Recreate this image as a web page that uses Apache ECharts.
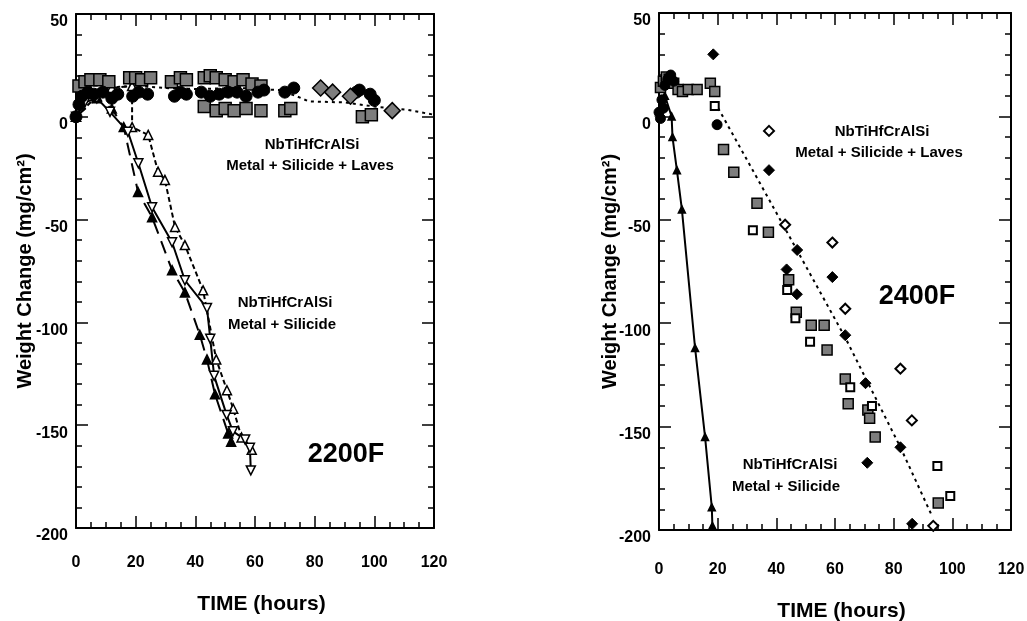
<!DOCTYPE html>
<html>
<head>
<meta charset="utf-8">
<script src="https://cdn.jsdelivr.net/npm/echarts@6/dist/echarts.min.js"></script>
<style>
  html, body { margin: 0; background: #fff; }
  #chart { width: 1027px; height: 621px; }
</style>
</head>
<body>
<div id="chart"></div>
<script>
// ---- 2200F panel (left) ----
// Metal + Silicide, open down-triangles, solid line
const l_msA_t = [0, 3, 7, 11.4, 17.4, 20.9, 25.5, 32.2, 36.5, 43.9, 45, 46.3, 50.5, 52.6, 56.7, 58.3, 58.6]
const l_msA_v = [0, 7, 9, 2.4, -7.3, -22.6, -44, -61, -79.5, -93, -108, -126, -145, -153, -157, -161, -172]
// Metal + Silicide, open up-triangles, short dashes
const l_msB_t = [0, 7, 12, 18.8, 18.8, 24.2, 27.5, 29.8, 33.2, 36.5, 42.6, 47, 50.6, 52.7, 55.5, 58.9]
const l_msB_v = [0, 10, 14, 15, -5, -8.8, -26.7, -30.7, -53.6, -62.4, -84.4, -118, -133, -142, -156, -162]
// Metal + Silicide, filled triangles, long dashes
const l_msC_t = [0, 7, 12, 16, 20.8, 25.5, 32.2, 36.5, 41.5, 43.9, 46.6, 51, 52]
const l_msC_v = [0, 9, 4, -5, -36.6, -48.8, -74.6, -85.4, -106, -118, -135, -154, -158]
// Metal + Silicide + Laves, trend line
const l_lavLine_t = [0, 3, 8, 20, 30, 40, 55, 68, 74, 78, 90, 100, 111, 120]
const l_lavLine_v = [0, 9, 14, 15, 14, 13.5, 14, 13, 10, 7.5, 7, 5, 3.4, 1]
// Laves samples: hatched squares
const l_hatch_t = [1, 3, 5, 8, 11, 18, 20, 22, 25, 32, 35, 37, 43, 45, 47, 50, 53, 56, 59, 62,
  43, 47, 50, 53, 57, 62, 70, 72, 96, 99]
const l_hatch_v = [15, 17, 18, 18, 17, 19, 19, 18, 19, 17, 19, 18, 19, 20, 19, 18, 17, 18, 16, 15,
  5, 3, 4, 3, 4, 3, 3, 4, 0, 1]
// Laves samples: filled circles
const l_circ_t = [0, 1, 2, 4, 6, 9, 12, 14, 19, 21, 24, 33, 35, 37, 42, 45, 48, 51, 54, 57, 61, 63, 70, 73, 94, 95, 98.6, 100]
const l_circ_v = [0, 6, 10, 12, 11, 12, 9, 11, 10, 12, 11, 10, 12, 11, 12, 10, 11, 12, 12, 10, 12, 13, 12, 14, 12, 13, 11, 8]
// Laves samples: hatched diamonds
const l_diam_t = [82, 86, 92, 106]
const l_diam_v = [14, 12, 10, 3]

// ---- 2400F panel (right) ----
const r_ms_t = [0, 2, 4.3, 4.6, 6.1, 7.8, 12.3, 15.7, 18, 18.2]
const r_ms_v = [2, 10, 0, -10, -26, -45, -112, -155, -189, -198]
const r_lavLine_t = [19, 39, 63.5, 82.3, 93]
const r_lavLine_v = [7, -44, -107, -160, -193]
const r_hatch_t = [0.5, 1.5, 2.5, 3.5, 5, 6.5, 8, 10, 13, 17.5, 19, 22, 25.5, 33.4, 37.3, 44.2, 46.8, 51.9, 56.3, 57.3, 63.5, 64.5, 71.2, 71.8, 73.7, 95.2]
const r_hatch_v = [14, 17, 19, 18, 16, 13, 12, 13, 13, 16, 12, -16, -27, -42, -56, -79, -94.7, -101, -101, -113, -127, -139, -142, -146, -155, -187]
const r_sq_t = [19, 32, 43.7, 46.5, 51.5, 65.2, 72.6, 94.9, 99.3]
const r_sq_v = [5, -55, -84, -97.6, -109, -131, -140, -169, -183.5]
const r_fd_t = [18.5, 37.5, 43.5, 47, 47.1, 59.1, 63.5, 70.4, 71, 82.3, 86.3]
const r_fd_v = [30, -26, -74, -86, -64.6, -77.7, -105.8, -129, -167.5, -160, -197]
const r_od_t = [37.5, 43, 59.1, 63.5, 82.3, 86.2, 93.5]
const r_od_v = [-7, -52.4, -61, -93, -122, -147, -198]
const r_circ_t = [0, 0.5, 1, 1.5, 2, 3, 4, 5, 19.8]
const r_circ_v = [2, -1, 8, 4, 15, 18, 20, 17, -4]

const xTicks = [0, 120, 20]      // min, max, step
const yTicks = [-200, 50, 50]

const FONT = '"Liberation Sans", Arial, sans-serif'
const zip = (t, v) => t.map((x, i) => [x, v[i]])

function xAxes(grid, labelMargin) {
  const base = {
    gridIndex: grid, type: 'value', min: xTicks[0], max: xTicks[1], interval: xTicks[2],
    axisLine: { onZero: false, lineStyle: { color: '#000', width: 2 } },
    axisTick: { inside: true, length: 12, lineStyle: { color: '#000', width: 1.5 } },
    minorTick: { show: true, splitNumber: 4, length: 6, lineStyle: { color: '#000', width: 1.5 } },
    splitLine: { show: false }
  }
  return [
    Object.assign({}, base, {
      position: 'bottom',
      axisLabel: { color: '#000', fontSize: 16, fontWeight: 'bold', fontFamily: FONT, margin: labelMargin },
      name: 'TIME (hours)', nameLocation: 'middle', nameGap: 66 + labelMargin - 27, nameMoveOverlap: false,
      nameTextStyle: { color: '#000', fontSize: 21, fontWeight: 'bold', fontFamily: FONT, padding: [0, 0, 0, 13] }
    }),
    Object.assign({}, base, { position: 'top', axisLabel: { show: false } })
  ]
}

function yAxes(grid, nameGap) {
  const base = {
    gridIndex: grid, type: 'value', min: yTicks[0], max: yTicks[1], interval: yTicks[2],
    axisLine: { onZero: false, lineStyle: { color: '#000', width: 2 } },
    axisTick: { inside: true, length: 12, lineStyle: { color: '#000', width: 1.5 } },
    minorTick: { show: true, splitNumber: 5, length: 6, lineStyle: { color: '#000', width: 1.5 } },
    splitLine: { show: false }
  }
  return [
    Object.assign({}, base, {
      position: 'left',
      axisLabel: { color: '#000', fontSize: 16, fontWeight: 'bold', fontFamily: FONT, margin: 8, verticalAlign: 'top' },
      name: 'Weight Change (mg/cm²)', nameLocation: 'middle', nameGap: nameGap, nameMoveOverlap: false,
      nameTextStyle: { color: '#000', fontSize: 20, fontWeight: 'bold', fontFamily: FONT }
    }),
    Object.assign({}, base, { position: 'right', axisLabel: { show: false } })
  ]
}

function lineSeries(xi, t, v, dash, symbol, open, rotate, size) {
  return {
    type: 'line', xAxisIndex: xi, yAxisIndex: xi, data: zip(t, v),
    symbol: symbol, symbolSize: size || 9, symbolRotate: rotate || 0, showAllSymbol: true,
    lineStyle: { color: '#000', width: 2, type: dash },
    itemStyle: { color: open ? '#fff' : '#000', borderColor: '#000', borderWidth: 1.5, opacity: 1 },
    z: 3, animation: false
  }
}

function dots(xi, t, v, symbol, size, style) {
  return {
    type: 'scatter', xAxisIndex: xi, yAxisIndex: xi, data: zip(t, v),
    symbol: symbol, symbolSize: size, itemStyle: style, z: 4, animation: false
  }
}

// crosshatched markers of the scan, drawn as mid grey
const hatchStyle = { color: '#7d7d7d', borderColor: '#000', borderWidth: 1.5, opacity: 1 }
const solidStyle = { color: '#000', borderColor: '#000', borderWidth: 1, opacity: 1 }
const openStyle = { color: '#fff', borderColor: '#000', borderWidth: 2, opacity: 1 }

function label(x, y, text, size) {
  return {
    type: 'text', x: x, y: y, z: 10,
    style: { text: text, font: 'bold ' + size + 'px ' + FONT, fill: '#000', textAlign: 'center', textVerticalAlign: 'middle' }
  }
}

const chart = echarts.init(document.getElementById('chart'), null, { renderer: 'canvas' })
chart.setOption({
  animation: false,
  backgroundColor: '#fff',
  grid: [
    { left: 76, top: 14, width: 358, height: 514, outerBoundsMode: 'none' },
    { left: 659, top: 13, width: 352, height: 517, outerBoundsMode: 'none' }
  ],
  xAxis: [...xAxes(0, 27), ...xAxes(1, 32)],
  yAxis: [...yAxes(0, 41), ...yAxes(1, 39)],
  series: [
    // left panel uses axes 0/1, right panel axes 2/3
    lineSeries(0, l_lavLine_t, l_lavLine_v, [3, 4], 'none'),
    dots(0, l_hatch_t, l_hatch_v, 'rect', 12, hatchStyle),
    dots(0, l_circ_t, l_circ_v, 'circle', 12, solidStyle),
    dots(0, l_diam_t, l_diam_v, 'diamond', 16, hatchStyle),
    lineSeries(0, l_msB_t, l_msB_v, [5, 3], 'triangle', true, 0, 9),
    lineSeries(0, l_msC_t, l_msC_v, [13, 8], 'triangle', false, 0, 9),
    lineSeries(0, l_msA_t, l_msA_v, 'solid', 'triangle', true, 180, 9),

    lineSeries(2, r_lavLine_t, r_lavLine_v, [3, 4], 'none'),
    lineSeries(2, r_ms_t, r_ms_v, 'solid', 'triangle', false, 0, 7),
    dots(2, r_hatch_t, r_hatch_v, 'rect', 10, hatchStyle),
    dots(2, r_sq_t, r_sq_v, 'rect', 8, openStyle),
    dots(2, r_circ_t, r_circ_v, 'circle', 10, solidStyle),
    dots(2, r_fd_t, r_fd_v, 'diamond', 11, solidStyle),
    dots(2, r_od_t, r_od_v, 'diamond', 10, openStyle)
  ],
  graphic: [
    label(312, 145, 'NbTiHfCrAlSi', 15),
    label(310, 166, 'Metal + Silicide + Laves', 15),
    label(285, 303, 'NbTiHfCrAlSi', 15),
    label(282, 325, 'Metal + Silicide', 15),
    label(346, 455, '2200F', 27),
    label(882, 132, 'NbTiHfCrAlSi', 15),
    label(879, 153, 'Metal + Silicide + Laves', 15),
    label(917, 297, '2400F', 27),
    label(790, 465, 'NbTiHfCrAlSi', 15),
    label(786, 487, 'Metal + Silicide', 15)
  ]
})
</script>
</body>
</html>
